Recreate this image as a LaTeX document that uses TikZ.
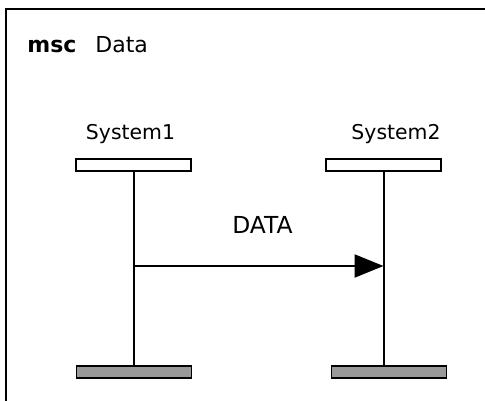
\documentclass[tikz,border=0pt]{standalone}
\usepackage{fontspec}
\setmainfont{DejaVu Sans}
\usetikzlibrary{arrows.meta}
\definecolor{endgray}{HTML}{999999}
\begin{document}
\begin{tikzpicture}[x=0.5pt,y=-0.5pt,
	headbox/.style={draw,fill=white,line width=0.8pt,minimum width=57.5pt,minimum height=6pt,inner sep=0pt},
	endbox/.style={draw,fill=endgray,line width=0.8pt,minimum width=57.5pt,minimum height=6pt,inner sep=0pt},
	lifeline/.style={line width=1pt},
	msg/.style={line width=1.1pt,-{Triangle[length=14.5pt,width=11.5pt]}}]
	\useasboundingbox (0,0) rectangle (485,400);
	\clip (0,0) rectangle (485,400);
	% frame
	\draw [line width=1.1pt] (6,9) rectangle (500,420);
	\node [anchor=base west,inner sep=0pt,font=\fontsize{11pt}{13pt}\bfseries] (kw) at (27,53) {msc};
	\node [anchor=base west,inner sep=0pt,font=\fontsize{11pt}{13pt}\selectfont] (title) at (95,53) {Data};
	% instances
	\node [anchor=base,inner sep=0pt,font=\fontsize{10.2pt}{12pt}\selectfont] (sys1) at (130.5,140) {System1};
	\node [anchor=base,inner sep=0pt,font=\fontsize{10.2pt}{12pt}\selectfont] (sys2) at (396,140) {System2};
	\node [headbox] (s1head) at (133.5,165) {};
	\node [headbox] (s2head) at (383.5,165) {};
	\node [endbox] (s1end) at (134,372) {};
	\node [endbox] (s2end) at (389,372) {};
	\draw [lifeline] (s1head.south) -- (s1head.south |- s1end.north);
	\draw [lifeline] (s2head.south) -- (s2head.south |- s2end.north);
	% message
	\coordinate (m1) at (s1head.south |- 0,266);
	\coordinate (m2) at (s2head.south |- 0,266);
	\draw [msg] (m1) -- (m2);
	\node [anchor=base,inner sep=0pt,font=\fontsize{11.7pt}{14pt}\selectfont] (data) at (262.5,233) {DATA};
\end{tikzpicture}
\end{document}
